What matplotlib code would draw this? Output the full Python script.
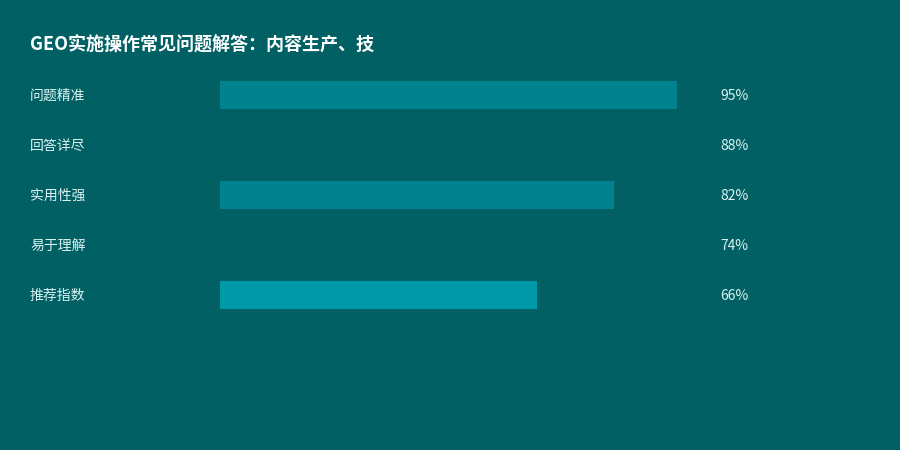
import matplotlib
matplotlib.use("Agg")
import matplotlib.pyplot as plt
from matplotlib.transforms import blended_transform_factory

plt.rcParams['font.family'] = ['Noto Sans CJK SC', 'DejaVu Sans']

# data
categories = ["问题精准", "回答详尽", "实用性强", "易于理解", "推荐指数"]
values = [95, 88, 82, 74, 66]
value_labels = ["95%", "88%", "82%", "74%", "66%"]

bg = "#006064"
bar_colors = ["#00838F", bg, "#00838F", bg, "#0099A8"]
text_color = "#DDF3F3"

fig = plt.figure(figsize=(9, 4.5), dpi=100)
fig.patch.set_facecolor(bg)

# axes spans bar area: x 220..701 px, y 69..319 px
ax = fig.add_axes([220 / 900, 1 - 319.5 / 450, 481 / 900, 250 / 450])
ax.set_facecolor(bg)
ax.barh(range(len(values)), values, height=0.56, color=bar_colors)
ax.set_xlim(0, 100)
ax.set_ylim(len(values) - 0.5, -0.5)
ax.axis("off")

tr = blended_transform_factory(fig.transFigure, ax.transData)
for i, (cat, lab) in enumerate(zip(categories, value_labels)):
    ax.text(30 / 900, i + 0.02, cat, transform=tr, ha="left", va="center",
            fontsize=10, color=text_color)
    ax.text(720 / 900, i + 0.02, lab, transform=tr, ha="left", va="center",
            fontsize=10, color=text_color)

fig.text(30 / 900, 1 - 45 / 450, "GEO实施操作常见问题解答：内容生产、技",
         ha="left", va="center", fontsize=13, fontweight="bold", color="white")

fig.savefig("out.png", dpi=100, facecolor=bg)
